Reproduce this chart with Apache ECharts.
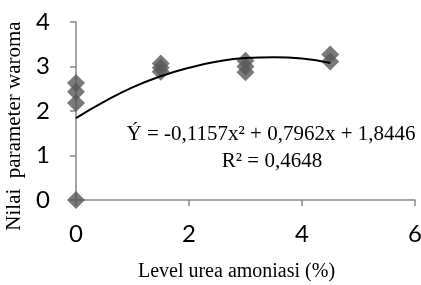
<!DOCTYPE html>
<html>
<head>
<meta charset="utf-8">
<script src="https://cdn.jsdelivr.net/npm/echarts@6/dist/echarts.min.js"></script>
<style>
  html, body { margin: 0; padding: 0; background: #fff; }
  #main { width: 421px; height: 285px; }
</style>
</head>
<body>
<div id="main"></div>
<script>
// observed points: [urea level %, aroma score]
const levels = [0, 0, 0, 0, 1.5, 1.5, 1.5, 3, 3, 3, 4.5, 4.5];
const scores = [0, 2.18, 2.43, 2.63, 2.88, 2.97, 3.07, 2.87, 3.0, 3.13, 3.11, 3.27];

// trend line
const trendX = [0, 0.5, 1, 1.5, 2, 2.5, 3, 3.5, 4, 4.5];
const trendY = [1.84, 2.21, 2.53, 2.78, 2.97, 3.11, 3.19, 3.21, 3.18, 3.08];

const equation = 'Ý = -0,1157x² + 0,7962x + 1,8446';
const rSquared = 'R² = 0,4648';

const axisColor = '#868686';
const serif = '"Liberation Serif", "DejaVu Serif", serif';

const chart = echarts.init(document.getElementById('main'), null, {renderer: 'canvas'});

chart.setOption({
  animation: false,
  grid: {left: 76, right: 6, top: 22, bottom: 85, outerBoundsMode: 'none'},
  xAxis: {
    type: 'value',
    min: 0,
    max: 6,
    interval: 2,
    name: 'Level urea amoniasi (%)',
    nameLocation: 'middle',
    nameGap: 62,
    nameTextStyle: {fontFamily: serif, fontSize: 20, color: '#000', padding: [0, 18, 0, 0]},
    axisLine: {lineStyle: {color: axisColor, width: 1.5}},
    axisTick: {show: true, length: 6, lineStyle: {color: axisColor, width: 1.5}},
    axisLabel: {fontFamily: 'Lato', fontSize: 24, color: '#000', margin: 22},
    splitLine: {show: false}
  },
  yAxis: {
    type: 'value',
    min: 0,
    max: 4,
    interval: 1,
    name: 'Nilai  parameter waroma',
    nameLocation: 'middle',
    nameRotate: 90,
    nameGap: 46,
    nameTextStyle: {fontFamily: serif, fontSize: 21, color: '#000', padding: [0, 30, 0, 0]},
    axisLine: {show: true, lineStyle: {color: axisColor, width: 1.5}},
    axisTick: {show: true, length: 6, lineStyle: {color: axisColor, width: 1.5}},
    axisLabel: {fontFamily: 'Lato', fontSize: 24, color: '#000', margin: 26},
    splitLine: {show: false}
  },
  series: [
    {
      type: 'scatter',
      symbol: 'diamond',
      symbolSize: 18,
      itemStyle: {color: '#595959'},
      data: levels.map((x, i) => [x, scores[i]]),
      z: 3
    },
    {
      type: 'line',
      smooth: true,
      showSymbol: false,
      lineStyle: {color: '#000', width: 2},
      data: trendX.map((x, i) => [x, trendY[i]]),
      z: 4
    }
  ],
  graphic: [
    {
      type: 'text',
      x: 271, y: 134,
      style: {text: equation, font: '21px ' + serif, fill: '#000', align: 'center', verticalAlign: 'middle'}
    },
    {
      type: 'text',
      x: 272, y: 161,
      style: {text: rSquared, font: '21px ' + serif, fill: '#000', align: 'center', verticalAlign: 'middle'}
    }
  ]
});
</script>
</body>
</html>
